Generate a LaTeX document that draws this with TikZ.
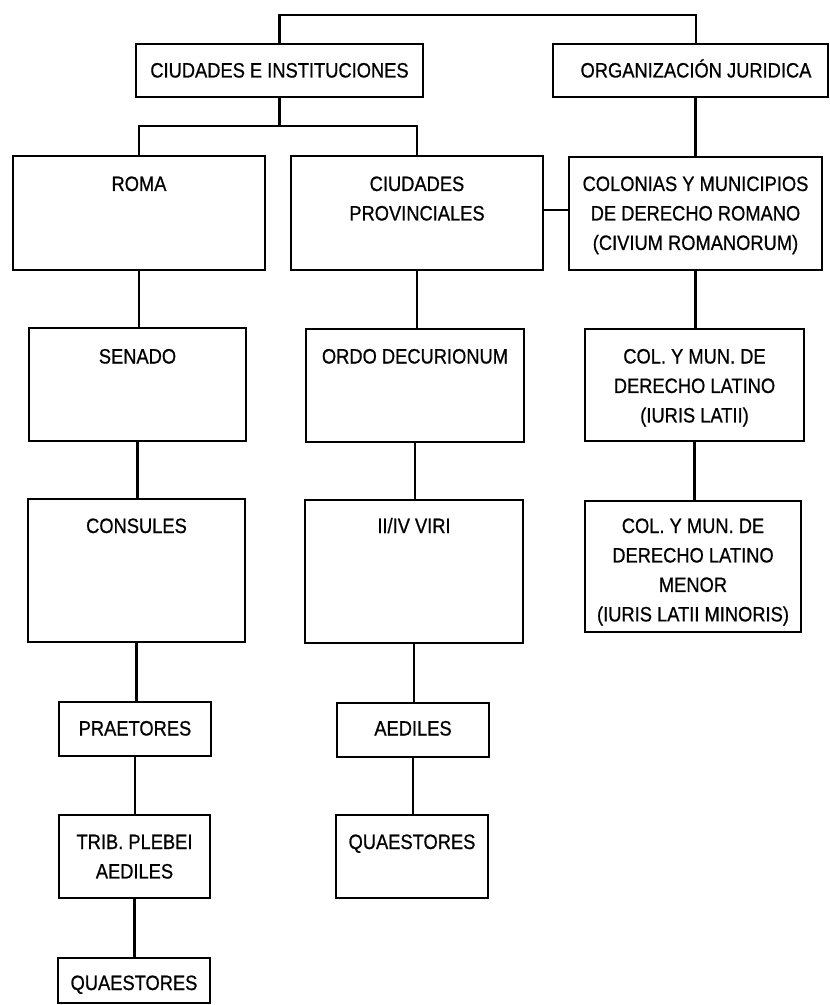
\documentclass[tikz,border=0pt]{standalone}
\usepackage{fontspec}
\setmainfont{Liberation Sans}[FakeStretch=0.88,FakeBold=0.7]
\newcommand\tl[1]{\begin{tabular}[t]{@{}c@{}}#1\end{tabular}}
\newcommand\mybox[5]{%
  \node[box, minimum width={(#4-#2)*0.75pt}, minimum height={(#5-#3)*0.75pt}] (#1) at ({(#2+#4)/2},{(#3+#5)/2}) {};}
\tikzset{
  box/.style={draw=black, line width=1.2pt, inner sep=0pt, outer sep=0pt},
  lbl/.style={anchor=base, inner sep=0pt, outer sep=0pt, font=\fontsize{15.6}{22.1}\selectfont},
  conn/.style={draw=black, line width=1.6pt}
}
\begin{document}
\begin{tikzpicture}[x=0.75pt,y=-0.75pt]
\useasboundingbox (0,0) rectangle (830,1005);
% boxes
\mybox{ci}{136}{44}{423}{97}
\mybox{org}{553}{44}{828}{97}
\mybox{roma}{13}{156}{265}{270}
\mybox{cp}{291}{156}{543}{270}
\mybox{col}{569}{157}{822}{270}
\mybox{sen}{29}{328}{246}{441}
\mybox{ordo}{306}{329}{524}{442}
\mybox{colm}{585}{329}{804}{441}
\mybox{cons}{28}{499}{245}{642}
\mybox{viri}{305}{500}{523}{643}
\mybox{colmen}{585}{501}{801}{632}
\mybox{prae}{59}{702}{211}{756}
\mybox{aed}{337}{703}{489}{757}
\mybox{trib}{59}{815}{210}{898}
\mybox{quaem}{336}{815}{488}{898}
\mybox{quael}{58}{958}{210}{1003}
% labels
\node[lbl] (cit) at (279.5,77.5) {\tl{CIUDADES E INSTITUCIONES}};
\node[lbl] (orgt) at (696,77.5) {\tl{ORGANIZACIÓN JURIDICA}};
\node[lbl] (romat) at (139,191) {\tl{ROMA}};
\node[lbl] (cpt) at (417,191) {\tl{CIUDADES\\PROVINCIALES}};
\node[lbl] (colt) at (695.5,191) {\tl{COLONIAS Y MUNICIPIOS\\DE DERECHO ROMANO\\(CIVIUM ROMANORUM)}};
\node[lbl] (sent) at (137.5,363.5) {\tl{SENADO}};
\node[lbl] (ordot) at (415,363.5) {\tl{ORDO DECURIONUM}};
\node[lbl] (colmt) at (694.5,363.5) {\tl{COL. Y MUN. DE\\DERECHO LATINO\\(IURIS LATII)}};
\node[lbl] (const) at (136.5,533) {\tl{CONSULES}};
\node[lbl] (virit) at (414,533) {\tl{II/IV VIRI}};
\node[lbl] (colment) at (693,533) {\tl{COL. Y MUN. DE\\DERECHO LATINO\\MENOR\\(IURIS LATII MINORIS)}};
\node[lbl] (praet) at (135,735.5) {\tl{PRAETORES}};
\node[lbl] (aedt) at (413,735.5) {\tl{AEDILES}};
\node[lbl] (tribt) at (134.5,849) {\tl{TRIB. PLEBEI\\AEDILES}};
\node[lbl] (quaemt) at (412,849) {\tl{QUAESTORES}};
\node[lbl] (quaelt) at (134,990) {\tl{QUAESTORES}};
% connectors
\coordinate (t1) at (279.5,15);
\coordinate (t2) at (696,15);
\coordinate (h) at (279.5,126);
\draw[conn] (ci.north) -- (t1) -- (t2) -- (t2 |- org.north);
\draw[conn] (ci.south) -- (h);
\draw[conn] (roma.north) -- (roma.north |- h) -- (cp.north |- h) -- (cp.north);
\draw[conn] (org.south -| col.north) -- (col.north);
\draw[conn] (cp.east |- 0,210) -- (col.west |- 0,210);
\draw[conn] (roma.south) -- (roma.south |- sen.north);
\draw[conn] (sen.south) -- (sen.south |- cons.north);
\draw[conn] (cons.south) -- (cons.south |- prae.north);
\draw[conn] (prae.south) -- (prae.south |- trib.north);
\draw[conn] (trib.south) -- (trib.south |- quael.north);
\draw[conn] (cp.south) -- (cp.south |- ordo.north);
\draw[conn] (ordo.south) -- (ordo.south |- viri.north);
\draw[conn] (viri.south) -- (viri.south |- aed.north);
\draw[conn] (aed.south) -- (aed.south |- quaem.north);
\draw[conn] (col.south) -- (col.south |- colm.north);
\draw[conn] (colm.south) -- (colm.south |- colmen.north);
\end{tikzpicture}
\end{document}
